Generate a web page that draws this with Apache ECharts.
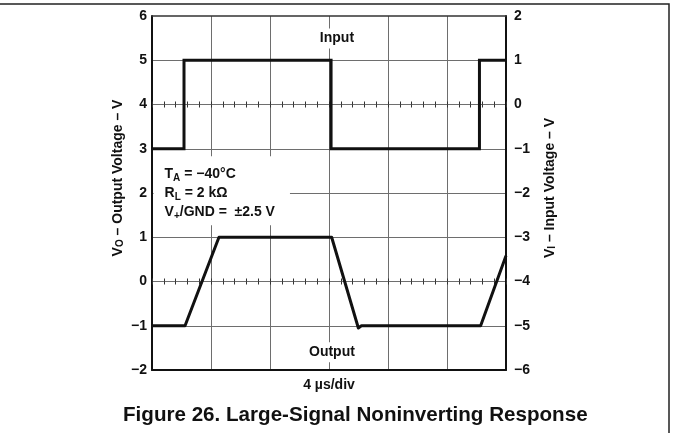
<!DOCTYPE html>
<html><head><meta charset="utf-8">
<script src="https://cdn.jsdelivr.net/npm/echarts@6/dist/echarts.min.js"></script>
<style>html,body{margin:0;padding:0;background:#fff}#c{width:673px;height:433px}</style>
</head><body><div id="c"></div>
<script>
// time axis (µs), 4 µs per division
const timeTicks = [0, 4, 8, 12, 16, 20, 24];
// left axis: output voltage (V)
const leftTicks = [-2, -1, 0, 1, 2, 3, 4, 5, 6];
// right axis: input voltage (V)
const rightTicks = [-6, -5, -4, -3, -2, -1, 0, 1, 2];

// input square wave (right axis)
const inputTime = [0, 2.17, 2.17, 12.14, 12.14, 22.2, 22.2, 24];
const inputValue = [-1, -1, 1, 1, -1, -1, 1, 1];

// output (left axis)
const outputTime = [0, 2.24, 4.54, 12.18, 13.99, 14.2, 22.28, 24];
const outputValue = [-1, -1, 1, 1, -1.05, -1, -1, 0.58];

const FONT = 'Liberation Sans, Arial, Helvetica, sans-serif';
const INK = '#111';
const GRIDC = '#6e6e6e';
const fmt = v => (v < 0 ? '\u2212' + Math.abs(v) : String(v));

const zip = (a, b) => a.map((t, i) => [t, b[i]]);

const tickAxis = (onIdx, inside) => ({
  type: 'value', gridIndex: 0, position: 'bottom',
  min: timeTicks[0], max: timeTicks[timeTicks.length - 1], interval: 0.8,
  axisLine: { show: false, onZero: true, onZeroAxisIndex: onIdx },
  axisTick: { show: true, inside: inside, length: 3, lineStyle: { color: '#333', width: 1 } },
  axisLabel: { show: false }, splitLine: { show: false }
});

const chart = echarts.init(document.getElementById('c'), null, { renderer: 'canvas' });
chart.setOption({
  animation: false,
  backgroundColor: '#fff',
  textStyle: { fontFamily: FONT },
  title: {
    text: 'Figure 26. Large-Signal Noninverting Response',
    left: 118, top: 400,
    textStyle: { fontFamily: FONT, fontSize: 20.6, fontWeight: 'bold', color: INK }
  },
  grid: { left: 152, top: 16, width: 354, height: 354, containLabel: false },
  graphic: [{
    type: 'polyline', silent: true,
    shape: { points: [[0, 4], [669, 4], [669, 433]] },
    style: { stroke: '#222', lineWidth: 1.5, fill: null }
  }],
  xAxis: [
    {
      type: 'value', position: 'bottom',
      min: timeTicks[0], max: timeTicks[timeTicks.length - 1], interval: timeTicks[1] - timeTicks[0],
      name: '4 \u00b5s/div', nameLocation: 'middle', nameGap: 8, nameMoveOverlap: false,
      nameTextStyle: { fontFamily: FONT, fontSize: 14, fontWeight: 'bold', color: INK },
      axisLine: { show: true, onZero: false, lineStyle: { color: INK, width: 2 } },
      axisTick: { show: false }, axisLabel: { show: false },
      splitLine: { show: true, showMinLine: false, showMaxLine: false, lineStyle: { color: GRIDC, width: 1 } }
    },
    {
      type: 'value', position: 'top',
      min: timeTicks[0], max: timeTicks[timeTicks.length - 1],
      axisLine: { show: true, onZero: false, lineStyle: { color: '#333', width: 1.5 } },
      axisTick: { show: false }, axisLabel: { show: false }, splitLine: { show: false }
    },
    tickAxis(0, false), tickAxis(0, true), tickAxis(1, false), tickAxis(1, true)
  ],
  yAxis: [
    {
      type: 'value', position: 'left',
      min: leftTicks[0], max: leftTicks[leftTicks.length - 1], interval: 1,
      name: 'V{s|O} \u2013 Output Voltage \u2013 V', nameLocation: 'middle', nameGap: 27, nameMoveOverlap: false,
      nameTextStyle: { fontFamily: FONT, fontSize: 14, fontWeight: 'bold', color: INK, padding: [0, 0, 0, 30],
        rich: { s: { fontFamily: FONT, fontSize: 10, fontWeight: 'bold', color: INK, verticalAlign: 'bottom', lineHeight: 10 } } },
      axisLine: { show: true, onZero: false, lineStyle: { color: INK, width: 2 } },
      axisTick: { show: false },
      axisLabel: { show: true, margin: 5, formatter: fmt, fontFamily: FONT, fontSize: 14, fontWeight: 'bold', color: INK },
      splitLine: { show: true, showMinLine: false, showMaxLine: false, lineStyle: { color: GRIDC, width: 1 } }
    },
    {
      type: 'value', position: 'right',
      min: rightTicks[0], max: rightTicks[rightTicks.length - 1], interval: 1,
      name: 'V{s|I} \u2013 Input Voltage \u2013 V', nameLocation: 'middle', nameGap: 37, nameMoveOverlap: false,
      nameTextStyle: { fontFamily: FONT, fontSize: 14, fontWeight: 'bold', color: INK, padding: [0, 0, 0, 10],
        rich: { s: { fontFamily: FONT, fontSize: 10, fontWeight: 'bold', color: INK, verticalAlign: 'bottom', lineHeight: 10 } } },
      axisLine: { show: true, onZero: false, lineStyle: { color: INK, width: 2 } },
      axisTick: { show: false },
      axisLabel: { show: true, margin: 8, formatter: fmt, fontFamily: FONT, fontSize: 14, fontWeight: 'bold', color: INK },
      splitLine: { show: false }
    }
  ],
  series: [
    {
      name: 'Input', type: 'line', xAxisIndex: 0, yAxisIndex: 1,
      data: zip(inputTime, inputValue), showSymbol: false, symbol: 'none',
      lineStyle: { color: INK, width: 3, join: 'miter' },
      markPoint: {
        symbol: 'circle', symbolSize: 1, itemStyle: { color: 'rgba(0,0,0,0)' },
        label: { show: true, formatter: '{b}', fontFamily: FONT, fontSize: 14, fontWeight: 'bold', color: INK,
          backgroundColor: '#fff', padding: [3, 3, 3, 3] },
        data: [{ name: 'Input', coord: [12.54, 1.49] }]
      }
    },
    {
      name: 'Output', type: 'line', xAxisIndex: 0, yAxisIndex: 0,
      data: zip(outputTime, outputValue), showSymbol: false, symbol: 'none',
      lineStyle: { color: INK, width: 3, join: 'round' },
      markPoint: {
        symbol: 'circle', symbolSize: 1, itemStyle: { color: 'rgba(0,0,0,0)' },
        data: [
          { name: 'Output', coord: [12.2, -1.6],
            label: { show: true, formatter: '{b}', fontFamily: FONT, fontSize: 14, fontWeight: 'bold', color: INK,
              backgroundColor: '#fff', padding: [3, 3, 3, 3] } },
          { name: 'cond', coord: [0.14, 2.82],
            label: { show: true, position: [0, 0],
              formatter: '{m|T}{s|A}{m| = \u221240\u00b0C}\n{m|R}{s|L}{m| = 2 k\u03a9}\n{m|V}{s|+}{m|/GND =  \u00b12.5 V}',
              backgroundColor: '#fff', padding: [8, 15, 4, 11],
              rich: {
                m: { fontFamily: FONT, fontSize: 14, fontWeight: 'bold', color: INK, lineHeight: 19 },
                s: { fontFamily: FONT, fontSize: 10, fontWeight: 'bold', color: INK, lineHeight: 10, verticalAlign: 'bottom' }
              } } }
        ]
      }
    }
  ]
});
</script></body></html>
